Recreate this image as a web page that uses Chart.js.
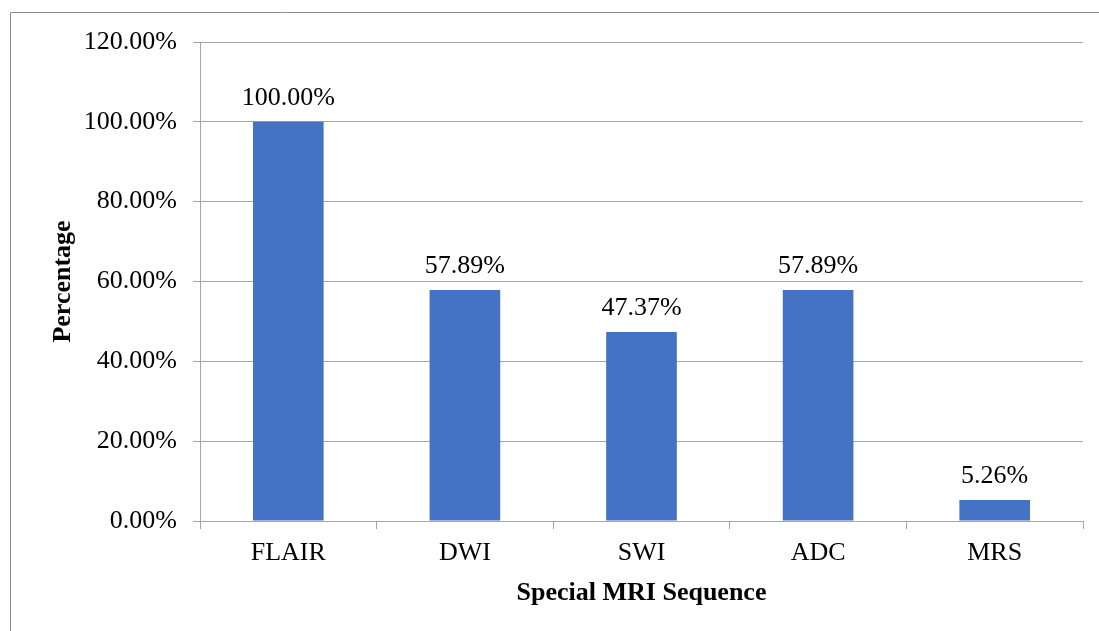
<!DOCTYPE html>
<html>
<head>
<meta charset="utf-8">
<script src="https://cdn.jsdelivr.net/npm/chart.js@4"></script>
<style>
  html, body { margin: 0; padding: 0; background: #fff; }
  #wrap { width: 1099px; height: 631px; }
</style>
</head>
<body>
<div id="wrap"><canvas id="mriChart" width="1099" height="631"></canvas></div>
<script>
// chart data
const sequences = ["FLAIR", "DWI", "SWI", "ADC", "MRS"];
const percentages = [100.00, 57.89, 47.37, 57.89, 5.26];
const yTicks = [0, 20, 40, 60, 80, 100, 120];

const serif = "'Liberation Serif', 'Times New Roman', serif";

// grey frame round the picture, like the exported figure
const framePlugin = {
  id: "frame",
  beforeDraw(chart) {
    const c = chart.ctx;
    c.save();
    c.fillStyle = "#fff";
    c.fillRect(0, 0, chart.width, chart.height);
    c.strokeStyle = "#8c8c8c";
    c.lineWidth = 1;
    c.beginPath();
    c.moveTo(10.5, chart.height);
    c.lineTo(10.5, 12.5);
    c.lineTo(chart.width, 12.5);
    c.stroke();
    c.restore();
  }
};

// value labels above each bar
const valueLabels = {
  id: "valueLabels",
  afterDatasetsDraw(chart) {
    const c = chart.ctx;
    const meta = chart.getDatasetMeta(0);
    c.save();
    c.font = "26px " + serif;
    c.fillStyle = "#000";
    c.textAlign = "center";
    c.textBaseline = "alphabetic";
    meta.data.forEach(function (bar, i) {
      c.fillText(percentages[i].toFixed(2) + "%", bar.x, bar.y - 17);
    });
    c.restore();
  }
};

new Chart(document.getElementById("mriChart"), {
  type: "bar",
  data: {
    labels: sequences,
    datasets: [{
      data: percentages,
      backgroundColor: "#4472C4",
      barPercentage: 0.4,
      categoryPercentage: 1.0
    }]
  },
  options: {
    responsive: false,
    animation: false,
    layout: { padding: { top: 42, right: 16, left: 0, bottom: 0 } },
    plugins: {
      legend: { display: false },
      tooltip: { enabled: false }
    },
    scales: {
      x: {
        grid: { drawOnChartArea: false, drawTicks: true, tickLength: 8, color: "#a6a6a6" },
        border: { color: "#a6a6a6" },
        ticks: { color: "#000", font: { family: serif, size: 26 }, padding: 9 },
        title: {
          display: true,
          text: "Special MRI Sequence",
          color: "#000",
          font: { family: serif, size: 26, weight: "bold" },
          padding: { top: 0, bottom: 22 }
        },
        afterFit(scale) { scale.height = 110; }
      },
      y: {
        min: 0,
        max: 120,
        afterBuildTicks(scale) { scale.ticks = yTicks.map(v => ({ value: v })); },
        grid: { color: "#a6a6a6", tickLength: 7 },
        border: { color: "#a6a6a6" },
        ticks: {
          color: "#000",
          font: { family: serif, size: 26 },
          padding: 16,
          callback: v => v.toFixed(2) + "%"
        },
        title: {
          display: true,
          text: "Percentage",
          color: "#000",
          font: { family: serif, size: 26, weight: "bold" },
          padding: { top: 48, bottom: 0 }
        },
        afterFit(scale) { scale.width = 200; }
      }
    }
  },
  plugins: [framePlugin, valueLabels]
});
</script>
</body>
</html>
